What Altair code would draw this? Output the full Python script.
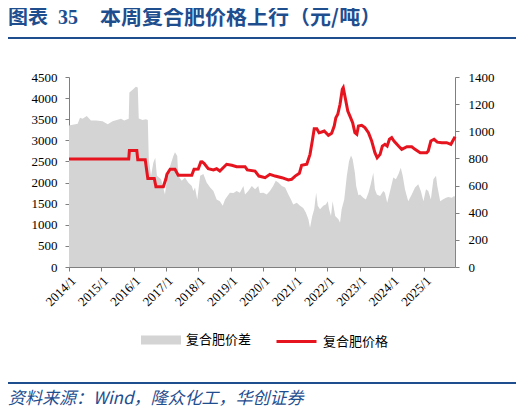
import altair as alt
import pandas as pd

# ---- data (x as decimal years) ----
gap_years = [2014.00, 2014.27, 2014.34, 2014.42, 2014.55, 2014.68, 2014.84, 2015.04, 2015.20, 2015.35,
             2015.61, 2015.71, 2015.85, 2015.87, 2015.97, 2016.07, 2016.13, 2016.16, 2016.28, 2016.38,
             2016.44, 2016.47, 2016.54, 2016.61, 2016.67, 2016.72, 2016.85, 2016.97, 2017.04, 2017.13,
             2017.23, 2017.28, 2017.35, 2017.38, 2017.49, 2017.59, 2017.69, 2017.80, 2017.85, 2017.90,
             2017.97, 2018.06, 2018.16, 2018.26, 2018.37, 2018.47, 2018.57, 2018.67, 2018.76, 2018.83,
             2018.98, 2019.09, 2019.19, 2019.29, 2019.40, 2019.45, 2019.55, 2019.66, 2019.76, 2019.86,
             2019.91, 2020.02, 2020.12, 2020.22, 2020.32, 2020.40, 2020.48, 2020.59, 2020.69, 2020.79,
             2020.87, 2020.94, 2021.05, 2021.15, 2021.25, 2021.33, 2021.41, 2021.46, 2021.53, 2021.59,
             2021.65, 2021.70, 2021.77, 2021.87, 2021.95, 2022.01, 2022.05, 2022.11, 2022.16, 2022.24,
             2022.34, 2022.39, 2022.44, 2022.52, 2022.60, 2022.67, 2022.73, 2022.78, 2022.85, 2022.89,
             2022.96, 2023.01, 2023.11, 2023.19, 2023.27, 2023.34, 2023.42, 2023.47, 2023.53, 2023.63,
             2023.73, 2023.78, 2023.85, 2023.94, 2024.04, 2024.12, 2024.20, 2024.27, 2024.33, 2024.40,
             2024.50, 2024.61, 2024.71, 2024.81, 2024.89, 2024.97, 2025.05, 2025.12, 2025.20, 2025.28,
             2025.36, 2025.40, 2025.49, 2025.57, 2025.67, 2025.74, 2025.85, 2025.92, 2025.95]
gap_values = [3350, 3390, 3535, 3510, 3575, 3470, 3470, 3450, 3380, 3450,
              3510, 3470, 3510, 4130, 4200, 4270, 4250, 3520, 3480, 3500,
              3480, 2550, 2160, 2470, 2590, 2160, 2080, 1720, 2160, 2390,
              2630, 2720, 2630, 2160, 2040, 2120, 2000, 1920, 1800, 1880,
              1600, 2160, 2200, 2000, 1880, 1800, 1600, 1560, 1450, 1600,
              1760, 1750, 1800, 1760, 1920, 1720, 1800, 1920, 1840, 1920,
              1750, 1760, 1720, 1800, 1920, 2040, 2000, 1920, 1880, 1720,
              1600, 1480, 1520, 1450, 1400, 1290, 1130, 930, 1210, 1370,
              1760, 1450, 1370, 1450, 1480, 1560, 1370, 1210, 1560, 1210,
              1130, 1050, 1370, 1600, 2160, 2510, 2640, 2550, 2230, 1920,
              1700, 1720, 1640, 1600, 1760, 1960, 2230, 1840, 1720, 1680,
              1800, 1760, 1520, 1800, 2120, 2080, 2200, 2350, 2160, 1840,
              1560, 1720, 1880, 1960, 1800, 1560, 1840, 1800, 1600, 2080,
              2160, 1920, 1560, 1600, 1640, 1660, 1640, 1680, 1660]

price_years = [2014.00, 2015.85, 2015.87, 2016.10, 2016.13, 2016.36, 2016.44, 2016.64, 2016.69, 2016.92,
               2017.00, 2017.03, 2017.13, 2017.28, 2017.38, 2017.80, 2017.87, 2018.00, 2018.08, 2018.12,
               2018.18, 2018.31, 2018.47, 2018.57, 2018.67, 2018.88, 2019.04, 2019.19, 2019.45, 2019.52,
               2019.76, 2019.88, 2020.07, 2020.22, 2020.38, 2020.59, 2020.79, 2020.89, 2021.00, 2021.13,
               2021.20, 2021.36, 2021.46, 2021.53, 2021.59, 2021.67, 2021.74, 2021.82, 2021.90, 2022.03,
               2022.13, 2022.21, 2022.26, 2022.32, 2022.39, 2022.46, 2022.49, 2022.54, 2022.63, 2022.70,
               2022.78, 2022.85, 2022.91, 2022.96, 2023.06, 2023.16, 2023.27, 2023.37, 2023.47, 2023.54,
               2023.63, 2023.70, 2023.78, 2023.85, 2023.92, 2023.99, 2024.06, 2024.20, 2024.30, 2024.46,
               2024.61, 2024.71, 2024.87, 2025.07, 2025.12, 2025.20, 2025.30, 2025.40, 2025.54, 2025.69,
               2025.82, 2025.95]
price_values = [795, 795, 858, 858, 790, 790, 652, 652, 592, 592,
                650, 683, 720, 720, 676, 676, 720, 722, 774, 775,
                764, 724, 715, 724, 707, 757, 750, 739, 739, 715,
                707, 670, 658, 683, 670, 658, 641, 646, 670, 690,
                749, 757, 830, 928, 1019, 1019, 990, 995, 1002, 970,
                985, 1039, 1100, 1125, 1199, 1309, 1321, 1260, 1149, 1110,
                1063, 990, 978, 1039, 1044, 1027, 990, 928, 842, 805,
                830, 891, 904, 891, 941, 953, 928, 891, 867, 886,
                886, 867, 842, 842, 855, 928, 941, 920, 916, 916,
                904, 960]

left_ticks = [0, 500, 1000, 1500, 2000, 2500, 3000, 3500, 4000, 4500]
right_ticks = [0, 200, 400, 600, 800, 1000, 1200, 1400]
tick_years = list(range(2014, 2026))

gap_name = "复合肥价差"
price_name = "复合肥价格"


def to_date(y):
    yr = int(y)
    start = pd.Timestamp(year=yr, month=1, day=1)
    end = pd.Timestamp(year=yr + 1, month=1, day=1)
    return (start + (end - start) * (y - yr)).strftime("%Y-%m-%dT%H:%M:%S")


df_gap = pd.DataFrame({"date": [to_date(y) for y in gap_years], "value": gap_values, "s": gap_name})
df_price = pd.DataFrame({"date": [to_date(y) for y in price_years], "value": price_values, "s": price_name})

AXIS_C = "#7f7f7f"
BLUE = "#1F4E8F"
SERIF = "Liberation Serif"
CJK = "Noto Sans CJK SC"

x_enc = alt.X(
    "date:T",
    scale=alt.Scale(domain=[alt.DateTime(year=2014, month=1, date=1),
                            alt.DateTime(year=2025, month=12, date=13)]),
    axis=alt.Axis(values=[alt.DateTime(year=y, month=1, date=1) for y in tick_years],
                  format="%Y/%-m", labelAngle=-45, tickSize=4, labelPadding=3,
                  labelOverlap=False, labelFlush=False, labelBound=False,
                  title=None, grid=False),
)

gap = alt.Chart(df_gap).mark_area(color="#D4D4D4", opacity=1).encode(
    x=x_enc,
    y=alt.Y("value:Q", scale=alt.Scale(domain=[0, 4500], nice=False),
            axis=alt.Axis(values=left_ticks, format="d", tickSize=4, labelPadding=8,
                          labelOverlap=False, title=None, grid=False)),
    color=alt.Color("s:N", scale=alt.Scale(domain=[gap_name], range=["#D4D4D4"]),
                    legend=alt.Legend(orient="none", legendX=72, legendY=243, title=None,
                                      symbolType="M-1,-0.23L1,-0.23L1,0.23L-1,0.23Z",
                                      symbolSize=1600, symbolStrokeWidth=0, symbolOpacity=1,
                                      labelFont=CJK, labelFontSize=13, labelOffset=5,
                                      labelColor="#000")),
)

price = alt.Chart(df_price).mark_line(strokeWidth=3).encode(
    x=x_enc,
    y=alt.Y("value:Q", scale=alt.Scale(domain=[0, 1400], nice=False),
            axis=alt.Axis(orient="right", values=right_ticks, format="d", tickSize=4,
                          labelPadding=9, labelOverlap=False, title=None, grid=False)),
    stroke=alt.Stroke("s:N", scale=alt.Scale(domain=[price_name], range=["#E6141E"]),
                      legend=alt.Legend(orient="none", legendX=206, legendY=243, title=None,
                                        symbolType="stroke", symbolSize=1600,
                                        symbolStrokeWidth=3,
                                        labelFont=CJK, labelFontSize=13, labelOffset=5,
                                        labelColor="#000")),
)

one = alt.Data(values=[{"k": 1}])

t1 = alt.Chart(one).mark_text(text="图表", font=CJK, fontSize=20, fontWeight="bold",
                              color=BLUE, align="left", baseline="middle").encode(
    x=alt.value(-61), y=alt.value(-59))
t2 = alt.Chart(one).mark_text(text="35", font=SERIF, fontSize=20, fontWeight="bold",
                              color=BLUE, align="left", baseline="middle").encode(
    x=alt.value(-11), y=alt.value(-59))
t3 = alt.Chart(one).mark_text(text="本周复合肥价格上行（元/吨）", font=CJK, fontSize=21,
                              fontWeight="bold", color=BLUE, align="left",
                              baseline="middle").encode(
    x=alt.value(31), y=alt.value(-59))
top_line = alt.Chart(one).mark_rule(color=BLUE, strokeWidth=2).encode(
    x=alt.value(-61), x2=alt.value(447), y=alt.value(-39))
bottom_line = alt.Chart(one).mark_rule(color=BLUE, strokeWidth=2).encode(
    x=alt.value(-61), x2=alt.value(447), y=alt.value(306))
source = alt.Chart(one).mark_text(text="资料来源：Wind，隆众化工，华创证券", font=CJK,
                                  fontSize=17, fontStyle="italic", color=BLUE,
                                  align="left", baseline="middle").encode(
    x=alt.value(-61), y=alt.value(322))

chart = alt.layer(gap, price, t1, t2, t3, top_line, bottom_line, source).resolve_scale(
    y="independent", color="independent", stroke="independent"
).properties(
    width=386, height=190,
    padding={"left": 61, "top": 69, "right": 61, "bottom": 142},
    autosize=alt.AutoSizeParams(type="none"),
).configure_view(stroke=None).configure_axis(
    domainColor=AXIS_C, tickColor=AXIS_C, labelColor="#000", labelFont=SERIF,
    labelFontSize=13, domainWidth=1, tickWidth=1,
)

chart.save("out.html", embed_options={"renderer": "svg", "actions": False})
